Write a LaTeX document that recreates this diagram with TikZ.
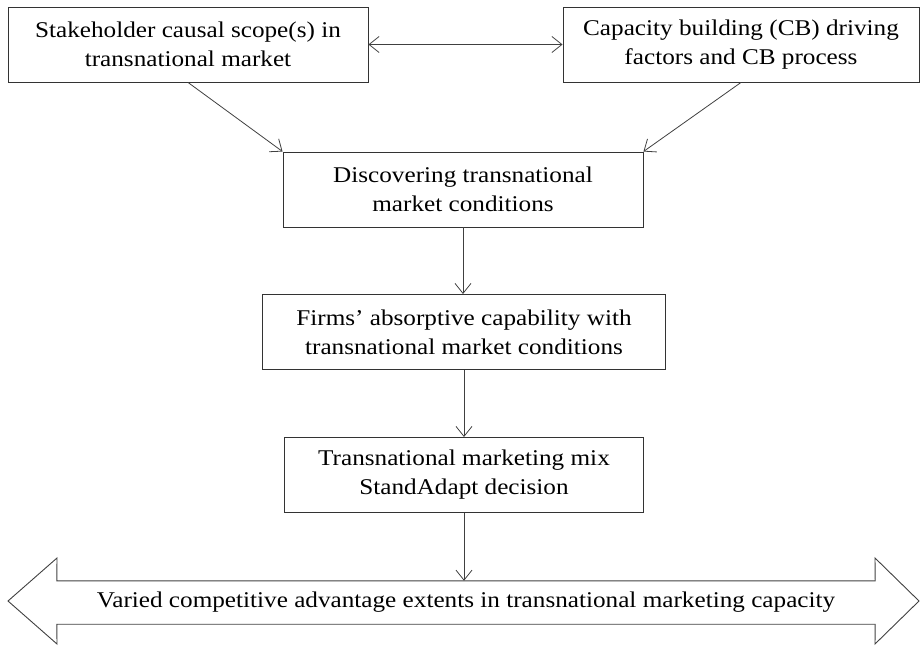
\documentclass[tikz,border=0pt]{standalone}
\usepackage{fontspec}
\setmainfont{Liberation Serif}[FakeStretch=1.12]
\usetikzlibrary{arrows.meta}
\begin{document}
\begin{tikzpicture}[x=1pt,y=-1pt,
  box/.style={draw=black!80, line width=0.9pt, align=center, inner sep=0pt,
    minimum height=75pt, font=\fontsize{22.5}{29}\selectfont},
  tipv/.tip={Straight Barb[length=10pt,width=16pt,line width=0.8pt]},
  conn/.style={draw=black!75, line width=0.8pt, -tipv},
  dconn/.style={draw=black!75, line width=0.8pt, tipv-tipv},
  bigarrow/.style={draw=black!75, line width=0.9pt}
]
\useasboundingbox (0,0) rectangle (921,647);
\node[box, minimum width=360pt] (A) at (188,44.5) {Stakeholder causal scope(s) in\\transnational market};
\node[box, minimum width=356pt] (B) at (741,44.5) {Capacity building (CB) driving\\factors and CB process};
\node[box, minimum width=360pt] (C) at (463,189.5) {Discovering transnational\\market conditions};
\node[box, minimum width=403pt] (D) at (464,332) {Firms’ absorptive capability with\\transnational market conditions};
\node[box, minimum width=359pt] (E) at (464,475) {Transnational marketing mix\\StandAdapt decision};
\node[inner sep=0pt, minimum width=818pt, minimum height=43pt,
  font=\fontsize{22.5}{29}\selectfont] (V) at (466,602.5)
  {Varied competitive advantage extents in transnational marketing capacity};
\draw[bigarrow] (V.north west) -- (57,558) -- (8,601) -- (57,644) -- (V.south west)
  -- (V.south east) -- (875,644) -- (919,601) -- (875,558) -- (V.north east) -- cycle;
\draw[dconn] (A) -- (B);
\draw[conn] (A.south) -- (C.north west);
\draw[conn] (B.south) -- (C.north east);
\draw[conn] (C.south) -- (C.south |- D.north);
\draw[conn] (D.south) -- (D.south |- E.north);
\draw[conn] (E.south) -- (E.south |- V.north);
\end{tikzpicture}
\end{document}
